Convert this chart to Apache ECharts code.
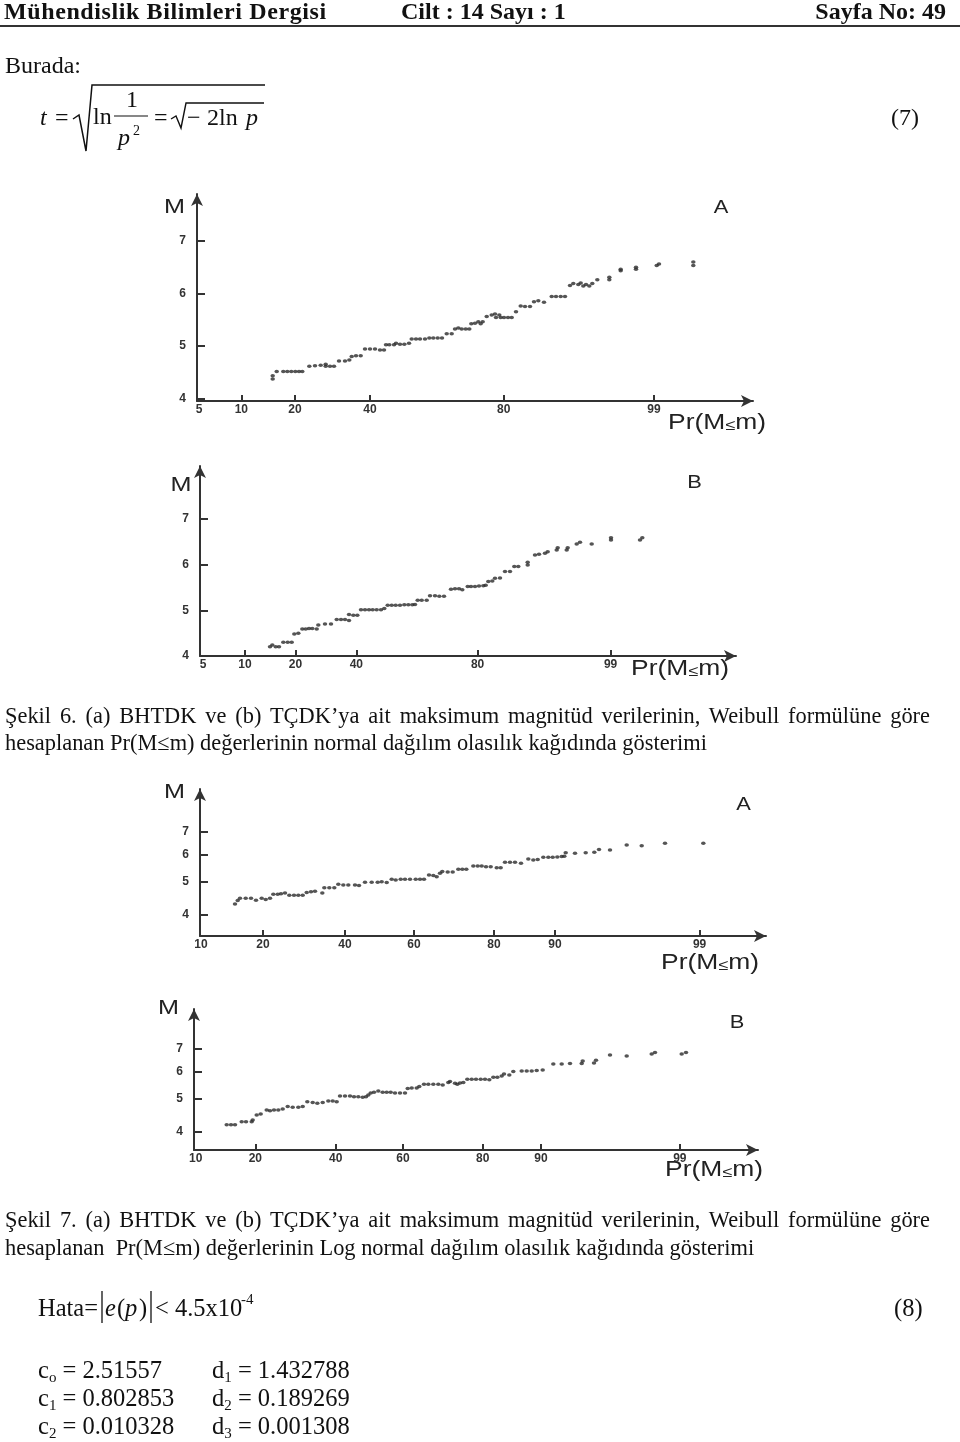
<!DOCTYPE html>
<html lang="tr"><head><meta charset="utf-8">
<title>Şekil 6 – Şekil 7</title>
<script src="https://cdn.jsdelivr.net/npm/echarts@6.0.0/dist/echarts.min.js"></script>
<style>
html,body{margin:0;padding:0;background:#fff}
body{position:relative;width:960px;height:1442px;overflow:hidden;font-family:"Liberation Serif","Times New Roman",serif;color:#111}
#chart{position:absolute;left:0;top:0;width:960px;height:1442px}
.t{position:absolute;white-space:nowrap;line-height:1;font-size:24px}
.cap{font-size:22.4px}
.eqt{font-size:24.5px}
.hd{font-weight:bold;font-size:24px;top:-1px}
.rule{position:absolute;left:0;top:25px;width:960px;height:0;border-top:2px solid #333}
.cap1{left:5px;width:925px;text-align:justify;text-align-last:justify;white-space:normal}
svg.eq{position:absolute;left:0;top:0;overflow:visible}
sub{font-size:15px;vertical-align:-4px;line-height:0}
</style></head><body>
<div id="chart"></div>

<div class="t hd" style="left:4px;letter-spacing:0.6px">Mühendislik Bilimleri Dergisi</div>
<div class="t hd" style="left:401px">Cilt : 14 Sayı : 1</div>
<div class="t hd" style="right:14px">Sayfa No: 49</div>
<div class="rule"></div>

<div class="t" style="left:5px;top:53px">Burada:</div>

<svg class="eq" width="960" height="170">
 <g font-family="Liberation Serif, Times New Roman, serif" font-size="24" fill="#111">
  <text x="40" y="125" font-style="italic">t</text>
  <text x="55" y="125">=</text>
  <path d="M73 119 L79 115 L86 151 L92 85 L265 85" stroke="#111" stroke-width="1.5" fill="none"/>
  <text x="93" y="124">ln</text>
  <text x="126" y="107">1</text>
  <line x1="114" y1="116" x2="148" y2="116" stroke="#111" stroke-width="1.2"/>
  <text x="118" y="145" font-style="italic">p</text>
  <text x="133" y="135" font-size="14">2</text>
  <text x="154" y="125">=</text>
  <path d="M171 119 L176 116 L181 128 L186 103 L264 103" stroke="#111" stroke-width="1.4" fill="none"/>
  <text x="187" y="125">−</text>
  <text x="207" y="125">2</text>
  <text x="219" y="125">ln</text>
  <text x="246" y="125" font-style="italic">p</text>
  <text x="891" y="125">(7)</text>
 </g>
</svg>

<div class="t cap cap1" style="top:705px">Şekil 6. (a) BHTDK ve (b) TÇDK’ya ait maksimum magnitüd verilerinin, Weibull formülüne göre</div>
<div class="t cap" style="left:5px;top:732px">hesaplanan Pr(M≤m) değerlerinin normal dağılım olasılık kağıdında gösterimi</div>

<div class="t cap cap1" style="top:1209px">Şekil 7. (a) BHTDK ve (b) TÇDK’ya ait maksimum magnitüd verilerinin, Weibull formülüne göre</div>
<div class="t cap" style="left:5px;top:1237px">hesaplanan&nbsp; Pr(M≤m) değerlerinin Log normal dağılım olasılık kağıdında gösterimi</div>

<svg class="eq" width="960" height="1442" style="pointer-events:none">
 <g font-family="Liberation Serif, Times New Roman, serif" font-size="24.5" fill="#111">
  <text x="38" y="1316">Hata=</text>
  <line x1="102" y1="1291" x2="102" y2="1323" stroke="#111" stroke-width="1.3"/>
  <text x="105" y="1316" font-style="italic">e</text>
  <text x="117" y="1316">(</text>
  <text x="125" y="1316" font-style="italic">p</text>
  <text x="139" y="1316">)</text>
  <line x1="151" y1="1291" x2="151" y2="1323" stroke="#111" stroke-width="1.3"/>
  <text x="155" y="1316">&lt; 4.5x10</text>
  <text x="241" y="1304" font-size="15">-4</text>
  <text x="894" y="1316">(8)</text>
 </g>
</svg>

<div class="t eqt" style="left:38px;top:1358px">c<sub>o</sub> = 2.51557</div>
<div class="t eqt" style="left:212px;top:1358px">d<sub>1</sub> = 1.432788</div>
<div class="t eqt" style="left:38px;top:1386px">c<sub>1</sub> = 0.802853</div>
<div class="t eqt" style="left:212px;top:1386px">d<sub>2</sub> = 0.189269</div>
<div class="t eqt" style="left:38px;top:1414px">c<sub>2</sub> = 0.010328</div>
<div class="t eqt" style="left:212px;top:1414px">d<sub>3</sub> = 0.001308</div>

<script>
// ---- Data: [position on probability paper (axis units), magnitude M] ----
const fig6A = [[75.7,4.37],[75.7,4.43],
 [79.7,4.51],[86.3,4.51],[90.3,4.51],[94.3,4.51],[98.3,4.51],[102,4.51],[105.3,4.51],
 [112.3,4.61],[118,4.62],[123.7,4.63],[128.7,4.65],[128.7,4.61],[133,4.61],[137,4.61],
 [142,4.71],[148,4.71],[152.3,4.73],[154.7,4.80],[159,4.81],[163.7,4.81],
 [168,4.94],[173,4.94],[178,4.94],[183,4.92],[187,4.92],
 [189,5.02],[192.3,5.02],[197,5.02],[199,5.05],[203,5.03],[207.3,5.03],[212,5.05],
 [214.7,5.13],[219,5.13],[223,5.13],[228,5.13],[232.3,5.15],[236.3,5.15],[240.7,5.15],[245,5.15],
 [249.7,5.23],[254.7,5.23],
 [258,5.32],[261.3,5.34],[264.7,5.32],[268.7,5.32],[272.3,5.32],
 [274.3,5.42],[278,5.43],[281.3,5.46],[283.7,5.42],[285.7,5.46],
 [289.7,5.56],[294.7,5.59],[298,5.61],[299,5.54],[302.3,5.59],[303.7,5.54],[307,5.54],[311,5.54],[314.7,5.54],
 [319,5.65],[323.7,5.76],[328,5.75],[333,5.75],
 [337,5.84],[341.3,5.86],[347,5.83],
 [354.7,5.94],[359,5.94],[363.7,5.94],[368,5.94],
 [373,6.15],[376.3,6.19],[381.3,6.17],[383.7,6.20],[386.3,6.14],[389,6.17],[392.3,6.14],[395.3,6.19],[400.3,6.26],
 [412.3,6.26],[412.3,6.31],[423.7,6.43],[423.7,6.46],[439,6.46],[439,6.50],
 [459.7,6.53],[462,6.56],[496.3,6.53],[496.3,6.60]];

const fig6B = [[70,4.20],[72.3,4.24],[75.7,4.20],[79,4.20],[83.3,4.30],[87.7,4.30],[91.7,4.30],
 [94.3,4.48],[98.3,4.50],
 [102.3,4.59],[105.7,4.59],[109,4.60],[112.3,4.60],[116.7,4.59],[118.3,4.68],
 [125,4.70],[131,4.70],
 [136.7,4.80],[141,4.80],[145,4.80],[149,4.78],[149,4.91],[153.3,4.89],[157.3,4.89],
 [161,5.01],[165,5.01],[169,5.01],[172.7,5.01],[176.7,5.01],[181,5.01],[184.3,5.04],
 [187.7,5.11],[191.7,5.11],[195.7,5.11],[200,5.11],[204.3,5.12],[208.3,5.12],[212.3,5.12],[215,5.13],
 [217.7,5.22],[221.7,5.22],[226.7,5.22],
 [230,5.32],[235,5.32],[239.3,5.31],[244,5.31],
 [251,5.46],[255,5.47],[259,5.47],[262.3,5.45],
 [267.7,5.52],[271,5.52],[275,5.52],[279,5.53],[283.3,5.54],[285.7,5.55],
 [288.3,5.63],[292.3,5.64],[295,5.70],[300,5.71],
 [305,5.85],[310,5.85],[314.3,5.96],[318.3,5.96],[327.7,5.99],[327.7,6.05],
 [335,6.21],[339,6.23],[345,6.25],[347.7,6.28],
 [356.7,6.32],[357.7,6.37],[366.7,6.32],[367.7,6.37],[376.7,6.45],[380,6.49],[391.7,6.45],
 [411,6.54],[411,6.59],[440,6.54],[442.3,6.59]];

const fig7A = [[35,4.29],[37.7,4.39],[40,4.46],[45.7,4.46],[51,4.46],[56,4.40],[61.7,4.46],[65.7,4.42],[70,4.46],
 [73.3,4.58],[77.7,4.58],[81,4.60],[85,4.62],[89.3,4.55],[94,4.55],[98.3,4.55],[102.7,4.55],
 [106.7,4.64],[111,4.66],[115,4.68],[122.3,4.62],[124.3,4.79],[129.3,4.79],[134.3,4.79],
 [138.3,4.90],[143.3,4.88],[148.3,4.88],[155,4.88],[159,4.86],
 [165,4.97],[171.7,4.97],[177.7,4.97],[181.7,4.99],[186.7,4.96],
 [191.7,5.07],[195.7,5.05],[200.7,5.07],[205,5.07],[210,5.07],[215.7,5.07],[220,5.07],[224,5.07],
 [229,5.22],[233.3,5.20],[236.7,5.16],[240,5.28],[242.3,5.35],[247.7,5.33],[252.7,5.33],
 [258.3,5.43],[262.3,5.43],[266.3,5.43],
 [273.3,5.55],[277.7,5.55],[281.7,5.55],[286,5.52],[290.7,5.52],[296.7,5.48],[300.7,5.48],
 [305,5.69],[310,5.69],[315,5.69],[321,5.65],
 [328.3,5.82],[333.3,5.78],[337.7,5.80],[343.3,5.89],[348.3,5.89],[352.7,5.89],[357.3,5.90],[361.7,5.92],[364.3,5.93],[365.7,6.07],
 [375,6.05],[385.7,6.07],[394.3,6.09],[399,6.21],[410,6.18],
 [426.7,6.40],[441.7,6.37],[465,6.47],[503.3,6.47]];

const fig7B = [[32.7,4.19],[37,4.19],[41,4.19],[47.7,4.28],[52,4.28],[57.7,4.28],[58.7,4.33],
 [62.7,4.48],[66.7,4.51],
 [72.7,4.63],[76,4.61],[80,4.63],[84.3,4.63],[88.7,4.66],[93.7,4.74],[98.7,4.72],[104.3,4.72],[108.7,4.74],
 [113.3,4.90],[118.7,4.87],[123.3,4.85],[128.7,4.87],[134.3,4.92],[138.7,4.92],[142.7,4.90],
 [146,5.09],[151,5.09],[156,5.09],[160,5.07],[164.3,5.07],[168.7,5.05],[172,5.07],[174.3,5.13],
 [176.7,5.20],[180,5.22],[184.3,5.27],[188.7,5.22],[192.7,5.22],[196.7,5.22],[201,5.20],[206,5.20],[211,5.20],
 [213.7,5.36],[217.7,5.38],[222.7,5.38],[225.3,5.43],
 [230,5.51],[234.3,5.51],[239.3,5.51],[244.3,5.51],[248.7,5.49],[254.3,5.58],[256,5.62],[261,5.55],[263.3,5.51],[266,5.56],[269.3,5.58],
 [273.3,5.70],[277.7,5.70],[282,5.70],[286.7,5.70],[291,5.70],[295.3,5.68],
 [299.3,5.78],[303.3,5.78],[307.7,5.83],[310,5.91],[315.3,5.87],[319.3,6.01],
 [327.7,6.03],[332.7,6.03],[337.7,6.03],[342.7,6.05],[348.7,6.07],
 [359.3,6.32],[367.7,6.32],[376,6.35],[387.7,6.35],[388.7,6.45],[400,6.37],[402,6.49],
 [416,6.72],[432.7,6.67],[457.7,6.77],[461,6.83],[487.7,6.77],[492,6.83]];

// ---- Probability-paper tick labels and their positions (axis units) ----
const fig6_xLabels = ['5','10','20','40','80','99'];
const fig6A_xLabelPos = [2, 44.3, 98, 173, 306.7, 457];
const fig6B_xLabelPos = [3, 45, 95.5, 156.3, 277.6, 410.6];
const fig7_xLabels = ['10','20','40','60','80','90','99'];
const fig7A_xLabelPos = [1, 63, 145, 214, 294, 355, 499.6];
const fig7B_xLabelPos = [1.7, 61.3, 141.7, 209, 288.7, 347, 485.8];
const mTicks = [4, 5, 6, 7];
const panelTags = ['A', 'B', 'A', 'B'];

const panels = [
 {data: fig6A, pos: fig6A_xLabelPos, lab: fig6_xLabels, yType: 'value', yMin: 3.95, yMax: 7.895,
  grid: {left: 197, top: 194, width: 556, height: 207}, mXY: [174.5, 207], tagXY: [721, 208], prXY: [717, 423]},
 {data: fig6B, pos: fig6B_xLabelPos, lab: fig6_xLabels, yType: 'value', yMin: 4.0, yMax: 8.16,
  grid: {left: 200, top: 466, width: 536, height: 190}, mXY: [181, 485], tagXY: [694.5, 483], prXY: [680, 669]},
 {data: fig7A, pos: fig7A_xLabelPos, lab: fig7_xLabels, yType: 'log', yMin: 3.453, yMax: 9.35,
  grid: {left: 200, top: 789, width: 566, height: 147}, mXY: [174.5, 792], tagXY: [743.5, 805], prXY: [710, 963]},
 {data: fig7B, pos: fig7B_xLabelPos, lab: fig7_xLabels, yType: 'log', yMin: 3.534, yMax: 9.175,
  grid: {left: 194, top: 1009, width: 564, height: 141}, mXY: [168.5, 1008], tagXY: [737, 1023], prXY: [714, 1170]}
];

const AX = '#333';
const chart = echarts.init(document.getElementById('chart'), null, {renderer: 'canvas'});
const labelFont = {fontFamily: 'Liberation Sans, Arial, sans-serif', fontWeight: 'bold', fontSize: 12, color: '#333'};

const option = {
 animation: false,
 backgroundColor: 'transparent',
 grid: panels.map(p => Object.assign({containLabel: false}, p.grid)),
 xAxis: panels.map((p, i) => ({
  gridIndex: i, type: 'value', min: 0, max: p.grid.width,
  axisLine: {show: true, onZero: false, symbol: ['none', 'arrow'], symbolSize: [9, 12], lineStyle: {color: AX, width: 2}},
  axisTick: {show: true, inside: true, length: 6, lineStyle: {color: AX, width: 2}, customValues: p.pos.slice(1)},
  axisLabel: Object.assign({show: true, margin: 3, customValues: p.pos,
   formatter: v => { const k = p.pos.findIndex(q => Math.abs(q - v) < 1e-6); return k >= 0 ? p.lab[k] : ''; }}, labelFont),
  splitLine: {show: false}
 })),
 yAxis: panels.map((p, i) => ({
  gridIndex: i, type: p.yType, logBase: 10, min: p.yMin, max: p.yMax,
  axisLine: {show: true, onZero: false, symbol: ['none', 'arrow'], symbolSize: [9, 12], lineStyle: {color: AX, width: 2}},
  axisTick: {show: true, inside: true, length: 8, lineStyle: {color: AX, width: 2}, customValues: mTicks},
  axisLabel: Object.assign({show: true, margin: 11, customValues: mTicks, formatter: v => String(Math.round(v))}, labelFont),
  splitLine: {show: false}
 })),
 series: panels.map((p, i) => ({
  type: 'scatter', xAxisIndex: i, yAxisIndex: i, data: p.data,
  symbol: 'circle', symbolSize: [4.5, 3.5], silent: true,
  itemStyle: {color: '#2a2a2a'}
 })),
 graphic: panels.flatMap((p, i) => [
  {type: 'text', x: p.mXY[0], y: p.mXY[1], scaleX: 1.2, silent: true,
   style: {text: 'M', fontSize: 21, fontFamily: 'Liberation Sans, Arial, sans-serif', fill: '#222', align: 'center', verticalAlign: 'middle'}},
  {type: 'text', x: p.tagXY[0], y: p.tagXY[1], scaleX: 1.15, silent: true,
   style: {text: panelTags[i], fontSize: 19, fontFamily: 'Liberation Sans, Arial, sans-serif', fill: '#222', align: 'center', verticalAlign: 'middle'}},
  {type: 'text', x: p.prXY[0], y: p.prXY[1], scaleX: 1.2, silent: true,
   style: {text: '{a|Pr(M}{b|≤}{a|m)}', fill: '#222', align: 'center', verticalAlign: 'middle',
    rich: {a: {fontSize: 22, fontFamily: 'Liberation Sans, Arial, sans-serif', fill: '#222'},
           b: {fontSize: 15, fontFamily: 'Liberation Sans, Arial, sans-serif', fill: '#222', padding: [6, 0, 0, 0]}}}}
 ])
};
chart.setOption(option);
</script>
</body></html>
